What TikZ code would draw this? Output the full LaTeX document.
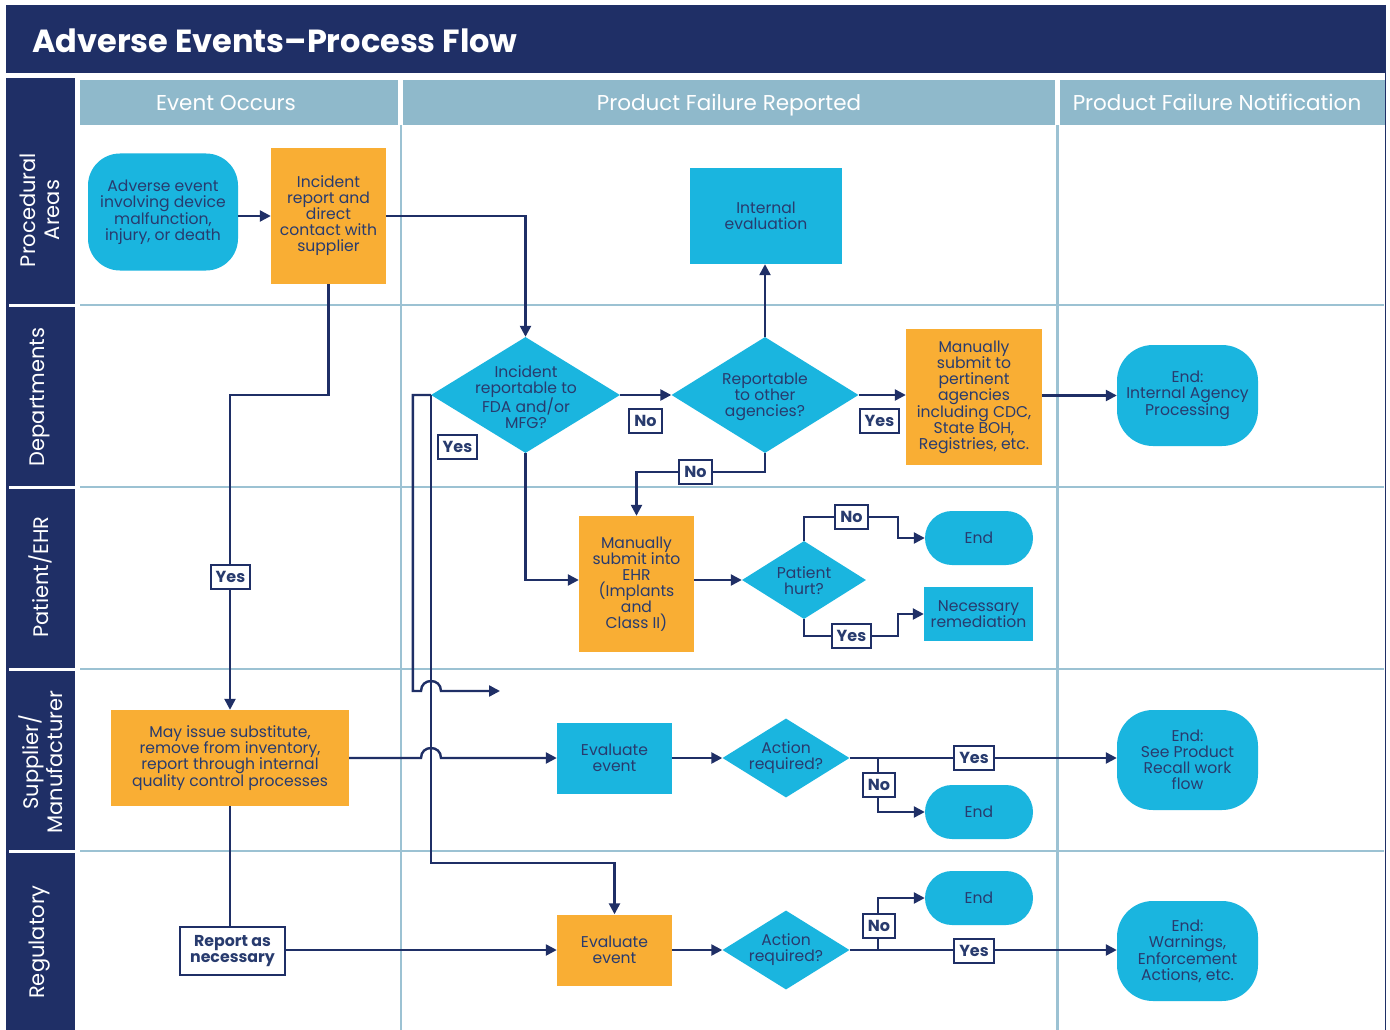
\documentclass[tikz,border=0pt]{standalone}
\usepackage{fontspec}
\setmainfont{Poppins}
\usetikzlibrary{shapes.geometric,arrows.meta,calc}
\definecolor{navy}{HTML}{1F2F66}
\definecolor{cyanbox}{HTML}{1AB5DF}
\definecolor{orangebox}{HTML}{F9AE34}
\definecolor{hdr}{HTML}{8FB9CB}
\definecolor{laneline}{HTML}{9CC2D3}
\definecolor{txt}{HTML}{283B6E}
\begin{document}
\begin{tikzpicture}[x=1pt,y=-1pt,
  every node/.style={font=\fontsize{15.6}{16}\selectfont, text=txt, align=center, inner sep=0pt},
  orangerect/.style={rectangle, fill=orangebox},
  cyanrect/.style={rectangle, fill=cyanbox},
  cyanround/.style={rectangle, fill=cyanbox, rounded corners=#1},
  cyanround/.default=32pt,
  dia/.style={diamond, fill=cyanbox},
  lbl/.style={draw=navy, fill=white, line width=2.2pt, font=\fontsize{16}{17}\selectfont\bfseries, text=txt, inner xsep=5pt, minimum height=24},
  lanetxt/.style={rotate=90, text=white, font=\fontsize{21}{24}\selectfont},
  hdrtxt/.style={text=white, anchor=base, font=\fontsize{21.5}{24}\selectfont},
  conn/.style={draw=navy, line width=2.4pt},
  arr/.style={conn, -{Triangle[length=11pt,width=11pt]}},
]
\useasboundingbox (0,0) rectangle (1390,1030);
\fill[white] (0,0) rectangle (1390,1030);

% frame
\fill[navy] (6,5) rectangle (1386,73);
\fill[navy] (6,78) rectangle (75,1030);
\foreach \yy in {305,487,669,851}{
  \draw[white, line width=3pt] (9,\yy) -- (75,\yy);
  \draw[laneline, line width=2pt] (80,\yy) -- (1384,\yy);
}
\draw[navy, line width=1.5pt] (1385.5,5) -- (1385.5,1030);
\fill[hdr] (80,80) rectangle (398,125);
\fill[hdr] (403,80) rectangle (1055,125);
\fill[hdr] (1060,80) rectangle (1384.7,125);
\draw[laneline, line width=2.5pt] (401,125) -- (401,1030);
\draw[laneline, line width=2.5pt] (1057.5,125) -- (1057.5,1030);

% title and headers
\node[anchor=west, text=white, font=\fontsize{32}{34}\selectfont\bfseries] (title) at (32,41) {Adverse Events–Process Flow};
\node[hdrtxt] (h1) at (226,111) {Event Occurs};
\node[hdrtxt] (h2) at (729,111) {Product Failure Reported};
\node[hdrtxt] (h3) at (1217,111) {Product Failure Notification};

% lane labels
\node[lanetxt] (l1) at (40,210) {Procedural\\Areas};
\node[lanetxt] (l2) at (40,397) {Departments};
\node[lanetxt] (l3) at (40,577) {Patient/EHR};
\node[lanetxt] (l4) at (41,762) {Supplier/\\Manufacturer};
\node[lanetxt] (l5) at (40,942) {Regulatory};

% nodes
\node[cyanround=32pt, minimum width=150, minimum height=117] (adv) at (163,212) {Adverse event\\involving device\\malfunction,\\injury, or death};
\node[orangerect, minimum width=115, minimum height=136] (inc) at (328.5,216) {Incident\\report and\\direct\\contact with\\supplier};
\node[cyanrect, minimum width=152, minimum height=96] (intev) at (766,216) {Internal\\evaluation};

\node[dia, minimum width=189, minimum height=116] (fda) at (525.5,395) {};
\node (fdat) at (526,397) {Incident\\reportable to\\FDA and/or\\MFG?};
\node[dia, minimum width=187, minimum height=116] (rep) at (765,395) {};
\node (rept) at (765,397) {Reportable\\to other\\agencies?};
\node[orangerect, minimum width=136, minimum height=136] (man) at (974,397) {Manually\\submit to\\pertinent\\agencies\\including CDC,\\State BOH,\\Registries, etc.};
\node[cyanround=36pt, minimum width=141, minimum height=101] (endA) at (1187.5,395.5) {End:\\Internal Agency\\Processing};

\node[orangerect, minimum width=115, minimum height=136] (ehr) at (636.5,584) {Manually\\submit into\\EHR\\(Implants\\and\\Class II)};
\node[dia, minimum width=124, minimum height=78] (hurt) at (804,580) {};
\node (hurtt) at (804,581) {Patient\\hurt?};
\node[cyanround=27pt, minimum width=108, minimum height=54] (end1) at (979,538) {End};
\node[cyanrect, minimum width=109, minimum height=54] (rem) at (978.5,614) {Necessary\\remediation};

\node[orangerect, minimum width=238, minimum height=96] (may) at (230,758) {May issue substitute,\\remove from inventory,\\report through internal\\quality control processes};
\node[cyanrect, minimum width=115, minimum height=71] (evalS) at (614.5,758) {Evaluate\\event};
\node[dia, minimum width=127, minimum height=79] (act1) at (786,758) {};
\node (act1t) at (786,758) {Action\\required?};
\node[cyanround=27pt, minimum width=108, minimum height=54] (end2) at (979,812) {End};
\node[cyanround=36pt, minimum width=141, minimum height=100] (endR) at (1187.5,760) {End:\\See Product\\Recall work\\flow};

\node[orangerect, minimum width=115, minimum height=71] (evalR) at (614.5,950) {Evaluate\\event};
\node[dia, minimum width=127, minimum height=79] (act2) at (786,950) {};
\node (act2t) at (786,950) {Action\\required?};
\node[cyanround=27pt, minimum width=108, minimum height=54] (end3) at (979,898) {End};
\node[cyanround=36pt, minimum width=141, minimum height=100] (endW) at (1187.5,951) {End:\\Warnings,\\Enforcement\\Actions, etc.};
\node[lbl, font=\fontsize{15.8}{16}\selectfont\bfseries, minimum width=105, minimum height=48] (repn) at (232.5,951) {Report as\\necessary};

% helper coordinates
\coordinate (c1) at (230,395);
\coordinate (d2) at (431,863);
\coordinate (k1) at (898,517);
\coordinate (k2) at (898,636);
\coordinate (b1) at (878,758);
\coordinate (b2) at (878,950);
\coordinate (h1end) at (500,691);

% connectors
\draw[arr] (adv.east |- inc.west) -- (inc.west);
\draw[arr] (inc.east) -| (fda.north);
\draw[arr] (inc.south) |- (c1) -- (may.north);
\draw[arr] (fda.east) -- (rep.west);
\draw[arr] (rep.north) -- (rep.north |- intev.south);
\draw[arr] (rep.east) -- (man.west |- rep.east);
\draw[arr] (rep.south) -- ++(0,19) -| (ehr.north);
\draw[arr] (fda.south) |- (ehr.west |- hurt.west);
\draw[arr] (ehr.east |- hurt.west) -- (hurt.west);
\draw[arr] (hurt.north) |- (k1) |- (end1.west);
\draw[arr] (hurt.south) |- (k2) |- (rem.west);
\draw[arr] (man.east |- endA.west) -- (endA.west);

\draw[arr] (fda.west) -- (fda.west |- d2) -| (evalR.north);
\draw[arr] (fda.west) -- ++(-18,0) |- (421,691) .. controls (421,677.7) and (441,677.7) .. (441,691) -- (h1end);
\draw[arr] (may.east) -- (421,758) .. controls (421,744.7) and (441,744.7) .. (441,758) -- (evalS.west);

\draw[arr] (evalS.east) -- (act1.west);
\draw[arr] (act1.east) -- (endR.west |- act1.east);
\draw[arr] (b1) |- (end2.west);

\draw[conn] (may.south) -- (may.south |- repn.north);
\draw[arr] (repn.east |- evalR.west) -- (evalR.west);
\draw[arr] (evalR.east) -- (act2.west);
\draw[arr] (act2.east) -- (endW.west |- act2.east);
\draw[arr] (b2) |- (end3.west);

% labels
\node[lbl] (yes0) at (230.5,577) {Yes};
\node[lbl] (yes1) at (457.5,447) {Yes};
\node[lbl] (no1) at (645.5,421) {No};
\node[lbl] (yes2) at (879.5,421) {Yes};
\node[lbl] (no2) at (695.5,472) {No};
\node[lbl] (no3) at (851.5,517) {No};
\node[lbl] (yes3) at (851.5,636) {Yes};
\node[lbl] (yes4) at (974,758) {Yes};
\node[lbl] (no4) at (879,785) {No};
\node[lbl] (no5) at (879,926) {No};
\node[lbl] (yes5) at (974,951) {Yes};
\end{tikzpicture}
\end{document}
